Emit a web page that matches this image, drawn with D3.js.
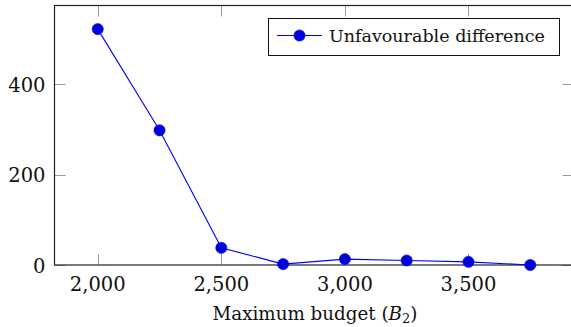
<!DOCTYPE html>
<html>
<head>
<meta charset="utf-8">
<script src="https://cdn.jsdelivr.net/npm/d3@7"></script>
<style>
  html, body { margin: 0; padding: 0; background: #fff; }
  svg { display: block; }
</style>
</head>
<body>
<script>
// Unfavourable difference against the maximum budget B2
const budgets = [2000, 2250, 2500, 2750, 3000, 3250, 3500, 3750];
const unfavourable = [522, 298, 38, 2, 13, 10, 7, 0];
const xTicks = [2000, 2500, 3000, 3500];
const yTicks = [0, 200, 400];
const seriesName = "Unfavourable difference";

const W = 571, H = 327;
const plot = { left: 54.5, right: 573.5, top: 5.5, bottom: 265 };
const serif = "'DejaVu Serif', serif";

const svg = d3.select("body").append("svg")
  .attr("width", W).attr("height", H)
  .attr("font-family", serif);

// axis limits padded by 10% of the data range on each side of x, and above the max on y
const xPad = 0.1 * (d3.max(budgets) - d3.min(budgets));
const x = d3.scaleLinear()
  .domain([d3.min(budgets) - xPad, d3.max(budgets) + xPad])
  .range([plot.left, plot.right]);
const y = d3.scaleLinear()
  .domain([0, d3.max(unfavourable) * 1.1])
  .range([plot.bottom, plot.top]);

const fmt = d3.format(",");
const tickLen = 11;

// inward ticks on all four sides
const ticks = svg.append("g").attr("stroke", "#9a9a9a").attr("stroke-width", 1);
xTicks.forEach(t => {
  const px = Math.round(x(t)) + 0.5;
  ticks.append("line").attr("x1", px).attr("x2", px).attr("y1", plot.bottom).attr("y2", plot.bottom - tickLen);
  ticks.append("line").attr("x1", px).attr("x2", px).attr("y1", plot.top).attr("y2", plot.top + tickLen);
});
yTicks.forEach(t => {
  const py = Math.round(y(t)) + 0.5;
  ticks.append("line").attr("x1", plot.left).attr("x2", plot.left + tickLen).attr("y1", py).attr("y2", py);
  ticks.append("line").attr("x1", plot.right).attr("x2", plot.right - tickLen).attr("y1", py).attr("y2", py);
});

// axis frame
svg.append("rect")
  .attr("x", plot.left).attr("y", plot.top)
  .attr("width", plot.right - plot.left).attr("height", plot.bottom - plot.top)
  .attr("fill", "none").attr("stroke", "#222").attr("stroke-width", 1.2);

// tick labels
svg.append("g").selectAll("text").data(xTicks).join("text")
  .attr("x", d => x(d)).attr("y", 290.5)
  .attr("text-anchor", "middle").attr("font-size", 19.5).attr("fill", "#111")
  .text(d => fmt(d));
svg.append("g").selectAll("text").data(yTicks).join("text")
  .attr("x", 45.5).attr("y", d => y(d) + 7.5)
  .attr("text-anchor", "end").attr("font-size", 19.5).attr("fill", "#111")
  .text(d => d);

// x-axis title
const title = svg.append("text")
  .attr("x", 315).attr("y", 319.5).attr("fill", "#111")
  .attr("text-anchor", "middle").attr("font-size", 18.3);
title.append("tspan").text("Maximum budget (");
title.append("tspan").attr("font-style", "italic").text("B");
title.append("tspan").attr("font-size", 13).attr("dy", 3).text("2");
title.append("tspan").attr("dy", -3).text(")");

// series
const pts = budgets.map((b, i) => [b, unfavourable[i]]);
svg.append("path")
  .datum(pts)
  .attr("fill", "none").attr("stroke", "#0000ff").attr("stroke-width", 1.1)
  .attr("d", d3.line().x(d => x(d[0])).y(d => y(d[1])));
svg.append("g").selectAll("circle").data(pts).join("circle")
  .attr("cx", d => x(d[0])).attr("cy", d => y(d[1])).attr("r", 5.6)
  .attr("fill", "#0000d8").attr("stroke", "#0000ff").attr("stroke-width", 0.6);

// legend
const lg = svg.append("g");
lg.append("rect")
  .attr("x", 268.5).attr("y", 18.5).attr("width", 291).attr("height", 37)
  .attr("fill", "#fff").attr("stroke", "#111").attr("stroke-width", 1);
lg.append("line")
  .attr("x1", 277).attr("x2", 322).attr("y1", 35.5).attr("y2", 35.5)
  .attr("stroke", "#0000ff").attr("stroke-width", 1.1);
lg.append("circle")
  .attr("cx", 299.5).attr("cy", 35.5).attr("r", 5.6)
  .attr("fill", "#0000d8").attr("stroke", "#0000ff").attr("stroke-width", 0.6);
lg.append("text")
  .attr("x", 329).attr("y", 41.5).attr("font-size", 17.5).attr("fill", "#111")
  .text(seriesName);
</script>
</body>
</html>
